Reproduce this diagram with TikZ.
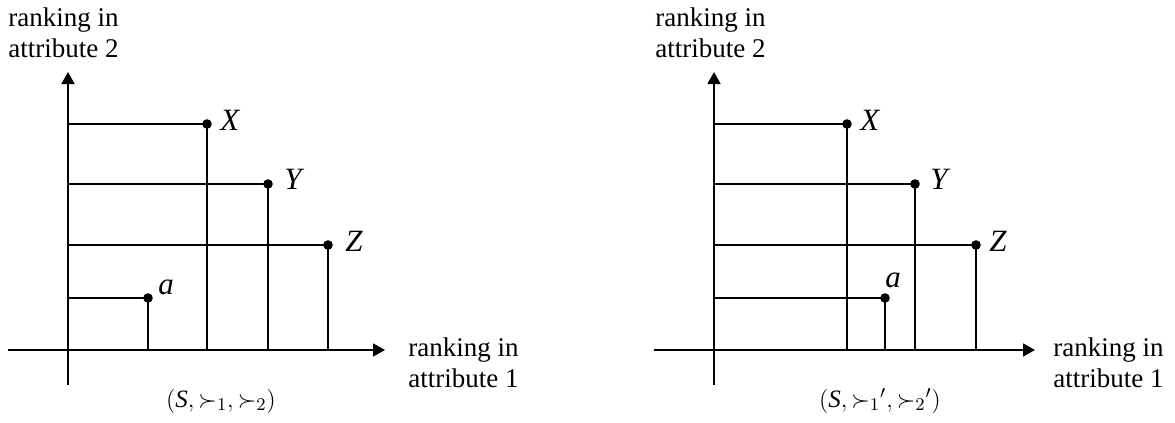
\documentclass[tikz,border=0pt]{standalone}
\usepackage{fontspec}
\setmainfont{Liberation Serif}
\usetikzlibrary{arrows.meta,positioning}

\begin{document}
\begin{tikzpicture}[x=0.5pt,y=-0.5pt,>={Triangle[length=6pt,width=6.5pt]},
  axis/.style={line width=0.9pt,->},
  guide/.style={line width=0.9pt},
  dot/.style={circle,fill=black,inner sep=0pt,minimum size=4.8pt},
  lbl/.style={font=\fontsize{15.5}{17}\selectfont\itshape,inner sep=0pt},
  axlabel/.style={font=\fontsize{13.5}{15.5}\selectfont,align=left,inner sep=0pt,anchor=north west},
  capt/.style={font=\fontsize{12.5}{14}\selectfont}]
\useasboundingbox (0,0) rectangle (1175,423);

% left panel
\coordinate (Lo) at (68,350);
\coordinate (Lytop) at (68,72);
\coordinate (Lybot) at (68,385);
\coordinate (Lxl) at (8,350);
\coordinate (Lxr) at (385,350);
\node[dot] (LX) at (207,124) {};
\node[dot] (LY) at (268,184) {};
\node[dot] (LZ) at (328,245) {};
\node[dot] (La) at (148,298) {};
\draw[axis] (Lybot) -- (Lytop);
\draw[axis] (Lxl) -- (Lxr);
\foreach \q in {LX,LY,LZ,La}
  \draw[guide] (\q.center -| Lo) -- (\q.center) -- (\q.center |- Lo);
\node[lbl,anchor=west] at ([shift={(13,-4)}]LX.center) {X};
\node[lbl,anchor=west] at ([shift={(16,-5)}]LY.center) {Y};
\node[lbl,anchor=west] at ([shift={(17,-4)}]LZ.center) {Z};
\node[lbl,anchor=south west] at ([shift={(10,-3)}]La.center) {a};
\node[axlabel] (Lyl) at (8,7) {ranking in\\attribute 2};
\node[axlabel] (Lxlab) at (408,337) {ranking in\\attribute 1};
\node[capt] (Lcap) at (221,401) {$(\mathit{S},{\succ_1},{\succ_2})$};

% right panel
\coordinate (Ro) at (714,350);
\coordinate (Rytop) at (714,72);
\coordinate (Rybot) at (714,385);
\coordinate (Rxl) at (654,350);
\coordinate (Rxr) at (1035,350);
\node[dot] (RX) at (847,124) {};
\node[dot] (RY) at (915,184) {};
\node[dot] (RZ) at (976,245) {};
\node[dot] (Ra) at (885,298) {};
\draw[axis] (Rybot) -- (Rytop);
\draw[axis] (Rxl) -- (Rxr);
\foreach \q in {RX,RY,RZ,Ra}
  \draw[guide] (\q.center -| Ro) -- (\q.center) -- (\q.center |- Ro);
\node[lbl,anchor=west] at ([shift={(13,-4)}]RX.center) {X};
\node[lbl,anchor=west] at ([shift={(15,-5)}]RY.center) {Y};
\node[lbl,anchor=west] at ([shift={(13,-4)}]RZ.center) {Z};
\node[lbl,anchor=south west] at ([shift={(0,-10)}]Ra.center) {a};
\node[axlabel] (Ryl) at (655,7) {ranking in\\attribute 2};
\node[axlabel] (Rxlab) at (1053,337) {ranking in\\attribute 1};
\node[capt] (Rcap) at (880,401) {$(\mathit{S},{\succ_1}',{\succ_2}')$};
\end{tikzpicture}
\end{document}
